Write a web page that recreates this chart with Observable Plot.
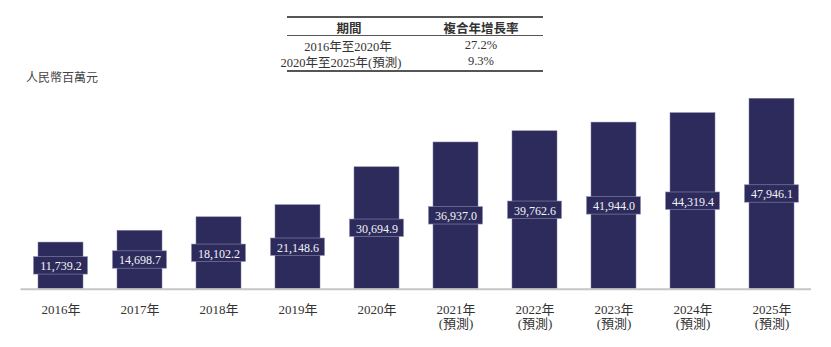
<!DOCTYPE html>
<html>
<head>
<meta charset="utf-8">
<script src="https://cdn.jsdelivr.net/npm/d3@7"></script>
<script src="https://cdn.jsdelivr.net/npm/@observablehq/plot@0.6"></script>
<style>
  html, body { margin: 0; padding: 0; background: #fff; }
  #wrap { position: relative; width: 831px; height: 347px; overflow: hidden;
    font-family: "Liberation Serif", "Noto Sans CJK TC", serif; color: #333; }
  #chart { position: absolute; left: 0; top: 0; }
  .t { position: absolute; font-size: 12.5px; white-space: nowrap; transform: translate(-50%, -50%); }
  .hline { position: absolute; left: 287px; width: 256px; background: #555; }
</style>
</head>
<body>
<div id="wrap">
  <div id="chart"></div>
</div>
<script>
const years = ["2016", "2017", "2018", "2019", "2020", "2021", "2022", "2023", "2024", "2025"];
const forecast = [false, false, false, false, false, true, true, true, true, true];
const values = [11739.2, 14698.7, 18102.2, 21148.6, 30694.9, 36937.0, 39762.6, 41944.0, 44319.4, 47946.1];
const unitLabel = "人民幣百萬元";
const tableHeader = ["期間", "複合年增長率"];
const tablePeriods = ["2016年至2020年", "2020年至2025年(預測)"];
const tableRates = ["27.2%", "9.3%"];

const data = years.map((y, i) => ({year: y, v: values[i], f: forecast[i]}));

const W = 831, H = 347, mTop = 90.1, mBottom = 58.3;
const yMax = 50000;
const pxPerUnit = (H - mTop - mBottom) / yMax;
const halfBox = 8.7 / pxPerUnit;
const barColor = "#2d2b5b";
const fmt = d3.format(",.1f");

const chart = Plot.plot({
  width: W,
  height: H,
  marginTop: mTop,
  marginBottom: mBottom,
  marginLeft: 20.5,
  marginRight: 20,
  style: {fontFamily: '"Liberation Serif", "Noto Sans CJK TC", serif', background: "transparent"},
  x: {domain: years, paddingInner: 0.43, paddingOuter: 0.215, label: null},
  y: {domain: [0, yMax], axis: null},
  marks: [
    Plot.barY(data, {x: "year", y: "v", fill: barColor, stroke: "#7f7ea3", strokeWidth: 0.5}),
    Plot.barY(data, {x: "year", y1: d => d.v / 2 - halfBox, y2: d => d.v / 2 + halfBox,
      fill: barColor, stroke: "#8c8bb0", strokeWidth: 0.6, insetLeft: -4.5, insetRight: -4.5}),
    Plot.text(data, {x: "year", y: d => d.v / 2, text: d => fmt(d.v), fill: "#f4f4f8",
      fontSize: 12, dy: 0.5}),
    Plot.ruleY([0], {stroke: "#c6c6c6", strokeWidth: 2}),
    Plot.axisX({tickSize: 0, tickPadding: 14, fontSize: 13, color: "#333", lineAnchor: "top", lineHeight: 1.12,
      tickFormat: (y, i) => forecast[years.indexOf(y)] ? `${y}年\n(預測)` : `${y}年`})
  ]
});
document.getElementById("chart").appendChild(chart);

// table and unit label (HTML overlay)
const wrap = document.getElementById("wrap");
function addText(txt, x, y, extra = {}) {
  const el = document.createElement("div");
  el.className = "t";
  el.textContent = txt;
  el.style.left = x + "px";
  el.style.top = y + "px";
  Object.assign(el.style, extra);
  wrap.appendChild(el);
}
function addLine(y, h) {
  const el = document.createElement("div");
  el.className = "hline";
  el.style.top = y + "px";
  el.style.height = h + "px";
  wrap.appendChild(el);
}
addLine(16, 1.6);
addLine(35, 1);
addLine(70, 1.6);
addText(tableHeader[0], 349, 26.5, {fontWeight: "bold"});
addText(tableHeader[1], 481, 26.5, {fontWeight: "bold"});
addText(tablePeriods[0], 348, 44.5);
addText(tablePeriods[1], 341, 61);
addText(tableRates[0], 481, 44.5);
addText(tableRates[1], 481, 61);
addText(unitLabel, 62, 77, {fontSize: "12px", color: "#444"});
</script>
</body>
</html>
